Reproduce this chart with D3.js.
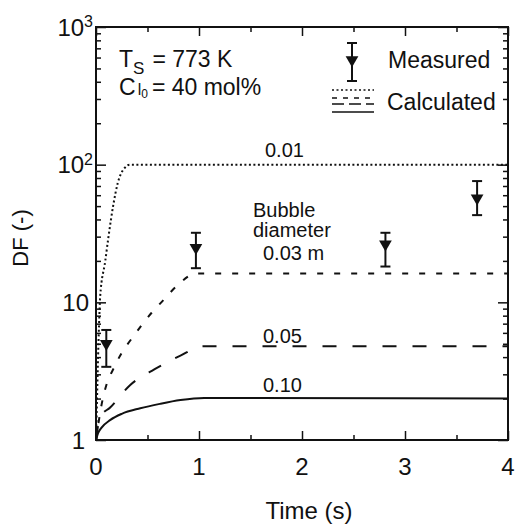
<!DOCTYPE html>
<html>
<head>
<meta charset="utf-8">
<script src="https://cdn.jsdelivr.net/npm/d3@7"></script>
<style>
  html, body { margin: 0; padding: 0; background: #fff; }
  svg text { font-family: "Liberation Sans", Arial, Helvetica, sans-serif; fill: #111; }
</style>
</head>
<body>
<svg id="chart" width="515" height="524"></svg>
<script>
// Calculated decontamination factor vs time for four bubble diameters (m)
const timeD001 = [0, 0.01, 0.02, 0.03, 0.04, 0.09, 0.12, 0.17, 0.21, 0.28, 0.33, 4];
const dfD001   = [1, 2, 4, 7, 10.9, 20, 29.5, 52, 73, 95, 100, 100];

const timeD003 = [0, 0.06, 0.10, 0.17, 0.25, 0.35, 0.54, 0.65, 0.80, 0.97, 4];
const dfD003   = [1, 1.9, 2.5, 3.3, 4.3, 5.5, 8.4, 10.3, 13.5, 16.2, 16.2];

const timeD005 = [0, 0.04, 0.14, 0.33, 0.57, 0.82, 1.04, 4];
const dfD005   = [1, 1.47, 1.73, 2.5, 3.27, 4.1, 4.8, 4.8];

const timeD010 = [0, 0.02, 0.05, 0.14, 0.25, 0.43, 0.62, 0.82, 1.05, 4];
const dfD010   = [1, 1.12, 1.22, 1.4, 1.55, 1.7, 1.83, 1.95, 2.02, 2.0];

// Measured values with error bars
const measTime = [0.10, 0.97, 2.81, 3.70];
const measDF   = [5.0, 25, 26.5, 57];
const measLow  = [3.4, 17.7, 18.2, 43];
const measHigh = [6.3, 32, 32, 76];

const xTicks = [0, 1, 2, 3, 4];
const xMinorTicks = [0.5, 1.5, 2.5, 3.5];
const yMajorTicks = [1, 10, 100, 1000];

const svg = d3.select("#chart");
const plotLeft = 96, plotRight = 508, plotTop = 27, plotBottom = 440;

const x = d3.scaleLinear().domain([0, 4]).range([plotLeft, plotRight]);
const y = d3.scaleLog().domain([1, 1000]).range([plotBottom, plotTop]);

const yMinor = [];
for (let d = 1; d < 1000; d *= 10) for (let k = 2; k <= 9; k++) yMinor.push(d * k);

// inward ticks on all four sides
function ticksOn(axisFn, scale, values, size, transform) {
  svg.append("g").attr("transform", transform)
    .call(axisFn(scale).tickValues(values).tickSize(size).tickFormat(""))
    .call(g => g.select(".domain").remove())
    .call(g => g.selectAll("line").attr("stroke", "#111").attr("stroke-width", 1.5));
}
ticksOn(d3.axisBottom, x, xTicks, -9, `translate(0,${plotBottom})`);
ticksOn(d3.axisBottom, x, xMinorTicks, -5, `translate(0,${plotBottom})`);
ticksOn(d3.axisTop, x, xTicks, -9, `translate(0,${plotTop})`);
ticksOn(d3.axisTop, x, xMinorTicks, -5, `translate(0,${plotTop})`);
ticksOn(d3.axisLeft, y, yMajorTicks, -10, `translate(${plotLeft},0)`);
ticksOn(d3.axisLeft, y, yMinor, -5, `translate(${plotLeft},0)`);
ticksOn(d3.axisRight, y, yMajorTicks, -10, `translate(${plotRight},0)`);
ticksOn(d3.axisRight, y, yMinor, -5, `translate(${plotRight},0)`);

// frame
svg.append("rect")
  .attr("x", plotLeft).attr("y", plotTop)
  .attr("width", plotRight - plotLeft).attr("height", plotBottom - plotTop)
  .attr("fill", "none").attr("stroke", "#111").attr("stroke-width", 2);

// x tick labels
svg.append("g").selectAll("text").data(xTicks).join("text")
  .attr("x", d => x(d)).attr("y", 475)
  .attr("text-anchor", "middle").attr("font-size", 24)
  .text(d => d);

// y tick labels
const yLab = svg.append("g");
yMajorTicks.forEach(v => {
  const exp = Math.round(Math.log10(v));
  const t = yLab.append("text")
    .attr("y", y(v)).attr("dy", "0.36em")
    .attr("text-anchor", "end").attr("font-size", 24);
  if (exp >= 2) {
    t.attr("x", 93);
    t.append("tspan").text("10");
    t.append("tspan").attr("font-size", 16).attr("dy", "-0.55em").text(exp);
  } else {
    t.attr("x", exp === 0 ? 85 : 89).text(v);
  }
});

// axis titles
svg.append("text")
  .attr("x", 309).attr("y", 519)
  .attr("text-anchor", "middle").attr("font-size", 24)
  .text("Time (s)");
svg.append("text")
  .attr("transform", "translate(28,238) rotate(-90)")
  .attr("text-anchor", "middle").attr("font-size", 22)
  .text("DF (-)");

// calculated curves
const line = d3.line()
  .x(d => x(d[0])).y(d => y(d[1]))
  .curve(d3.curveMonotoneX);

const curves = [
  { t: timeD001, v: dfD001, dash: "2,2.5", w: 2 },
  { t: timeD003, v: dfD003, dash: "6,11", w: 2 },
  { t: timeD005, v: dfD005, dash: "14,16", w: 2 },
  { t: timeD010, v: dfD010, dash: null, w: 2 }
];
curves.forEach(c => {
  svg.append("path")
    .datum(d3.zip(c.t, c.v))
    .attr("d", line)
    .attr("fill", "none").attr("stroke", "#111")
    .attr("stroke-width", c.w)
    .attr("stroke-dasharray", c.dash);
});

// measured points: down-pointing triangles with error bars
const tri = d3.symbol().type(d3.symbolTriangle).size(70);
const meas = svg.append("g");
measTime.forEach((t, i) => {
  const cx = x(t);
  meas.append("line")
    .attr("x1", cx).attr("x2", cx)
    .attr("y1", y(measLow[i])).attr("y2", y(measHigh[i]))
    .attr("stroke", "#111").attr("stroke-width", 2);
  [measLow[i], measHigh[i]].forEach(v => {
    meas.append("line")
      .attr("x1", cx - 5).attr("x2", cx + 5)
      .attr("y1", y(v)).attr("y2", y(v))
      .attr("stroke", "#111").attr("stroke-width", 2);
  });
  meas.append("path")
    .attr("d", tri)
    .attr("transform", `translate(${cx},${y(measDF[i])}) rotate(180)`)
    .attr("fill", "#111");
});

// curve labels
const labels = [
  { text: "0.01", x: 265, y: 157 },
  { text: "Bubble", x: 253, y: 217 },
  { text: "diameter", x: 253, y: 237 },
  { text: "0.03 m", x: 263, y: 260 },
  { text: "0.05", x: 263, y: 343 },
  { text: "0.10", x: 263, y: 392 }
];
svg.append("g").selectAll("text").data(labels).join("text")
  .attr("x", d => d.x).attr("y", d => d.y)
  .attr("font-size", 20)
  .text(d => d.text);

// conditions
const cond = svg.append("g").attr("font-size", 23);
const ts = cond.append("text").attr("x", 119).attr("y", 67);
ts.append("tspan").text("T");
ts.append("tspan").attr("font-size", 17).attr("dy", 7).text("S");
ts.append("tspan").attr("dy", -7).attr("dx", 8).text("= 773 K");

const ci = cond.append("text").attr("x", 119).attr("y", 95);
ci.append("tspan").text("C");
ci.append("tspan").attr("font-size", 16).attr("dx", 2).attr("dy", 0).text("l");
ci.append("tspan").attr("font-size", 12).attr("dy", 3).text("0");
ci.append("tspan").attr("dy", -3).attr("dx", 4).text("= 40 mol%");

// legend
const lg = svg.append("g");
const lx = 352;
lg.append("line").attr("x1", lx).attr("x2", lx).attr("y1", 43).attr("y2", 81)
  .attr("stroke", "#111").attr("stroke-width", 2);
[43, 81].forEach(v => lg.append("line")
  .attr("x1", lx - 5).attr("x2", lx + 5).attr("y1", v).attr("y2", v)
  .attr("stroke", "#111").attr("stroke-width", 2));
lg.append("path").attr("d", tri)
  .attr("transform", `translate(${lx},60) rotate(180)`).attr("fill", "#111");
lg.append("text").attr("x", 388).attr("y", 68).attr("font-size", 23).text("Measured");

const legendLines = [
  { yy: 90, dash: "2,2.5" },
  { yy: 98, dash: "5,6" },
  { yy: 104, dash: "12,5" },
  { yy: 112, dash: null }
];
legendLines.forEach(l => lg.append("line")
  .attr("x1", 332).attr("x2", 374).attr("y1", l.yy).attr("y2", l.yy)
  .attr("stroke", "#111").attr("stroke-width", 1.6)
  .attr("stroke-dasharray", l.dash));
lg.append("text").attr("x", 387).attr("y", 110).attr("font-size", 23).text("Calculated");
</script>
</body>
</html>
